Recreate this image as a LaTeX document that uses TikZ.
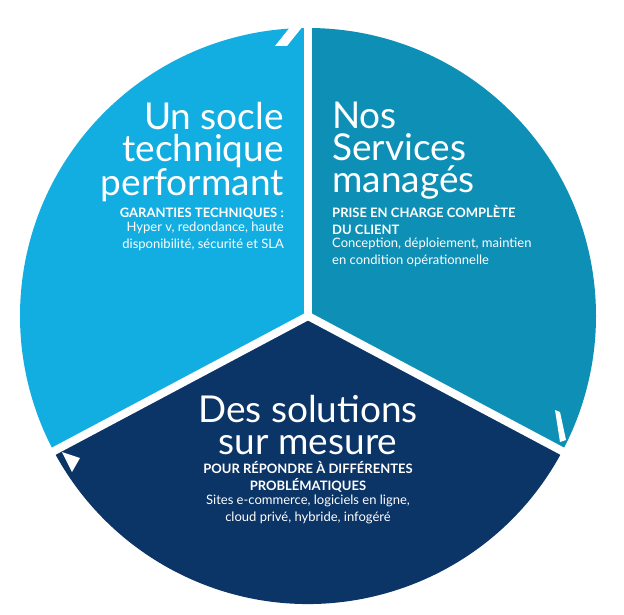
\documentclass[tikz,border=0pt]{standalone}
\usepackage{fontspec}
\setmainfont{Lato}
\usetikzlibrary{positioning}
\definecolor{cyanpart}{HTML}{12AEE2}
\definecolor{tealpart}{HTML}{0E8FB6}
\definecolor{navypart}{HTML}{0B3467}
\begin{document}
\begin{tikzpicture}[
    x=1pt, y=-1pt,
    title/.style={text=white, font=\fontsize{37}{32}\selectfont, inner sep=0pt},
    head/.style={text=white, font=\bfseries\fontsize{13}{17}\selectfont, inner sep=0pt},
    body/.style={text=white, font=\fontsize{13}{17}\selectfont, inner sep=0pt},
    gap/.style={white, line width=8pt}
]
\useasboundingbox (0,0) rectangle (624,615);

% Sectors
\coordinate (ctr) at (308,316);
\fill[cyanpart] (ctr) -- ++(-90:288) arc[start angle=-90, end angle=-208, radius=288] -- cycle;
\fill[tealpart] (ctr) -- ++(-90:288) arc[start angle=-90, end angle=28, radius=288] -- cycle;
\fill[navypart] (ctr) -- ++(28:288) arc[start angle=28, end angle=152, radius=288] -- cycle;
\path (ctr) ++(0,-300) coordinate (topend);
\path (ctr) ++(152:300) coordinate (leftend);
\path (ctr) ++(28:300) coordinate (rightend);
\draw[gap] (ctr) -- (topend);
\draw[gap] (ctr) -- (leftend);
\draw[gap] (ctr) -- (rightend);

% Notches
\fill[white] (291,26) -- (303,26) -- (287,46) -- (275,46) -- cycle;
\fill[white] (555,410) -- (560,412) -- (566,440) -- (560,442) -- cycle;
\fill[white] (62,452) -- (80,458) -- (72,472) -- cycle;

% Left sector
\node (socle) [title, anchor=north east, align=right] at (284,102) {Un socle\\technique\\performant};
\node (garanties) [head, below=6pt of socle.south east, anchor=north east, align=right] {GARANTIES TECHNIQUES :};
\node (hyper) [body, below=2pt of garanties.south east, anchor=north east, align=right] {Hyper v, redondance, haute\\disponibilité, sécurité et SLA};

% Right sector
\node (services) [title, anchor=north west, align=left] at (332,102) {Nos\\Services\\managés};
\node (prise) [head, below=6pt of services.south west, anchor=north west, align=left] {PRISE EN CHARGE COMPLÈTE\\DU CLIENT};
\node (conception) [body, below=2pt of prise.south west, anchor=north west, align=left] {Conception, déploiement, maintien\\en condition opérationnelle};

% Bottom sector
\node (solutions) [title, anchor=north, align=center] at (308,395) {Des solutions\\sur mesure};
\node (pour) [head, align=center, below=6pt of solutions] {POUR RÉPONDRE À DIFFÉRENTES\\PROBLÉMATIQUES};
\node (sites) [body, align=center, below=2pt of pour] {Sites e-commerce, logiciels en ligne,\\cloud privé, hybride, infogéré};
\end{tikzpicture}
\end{document}
